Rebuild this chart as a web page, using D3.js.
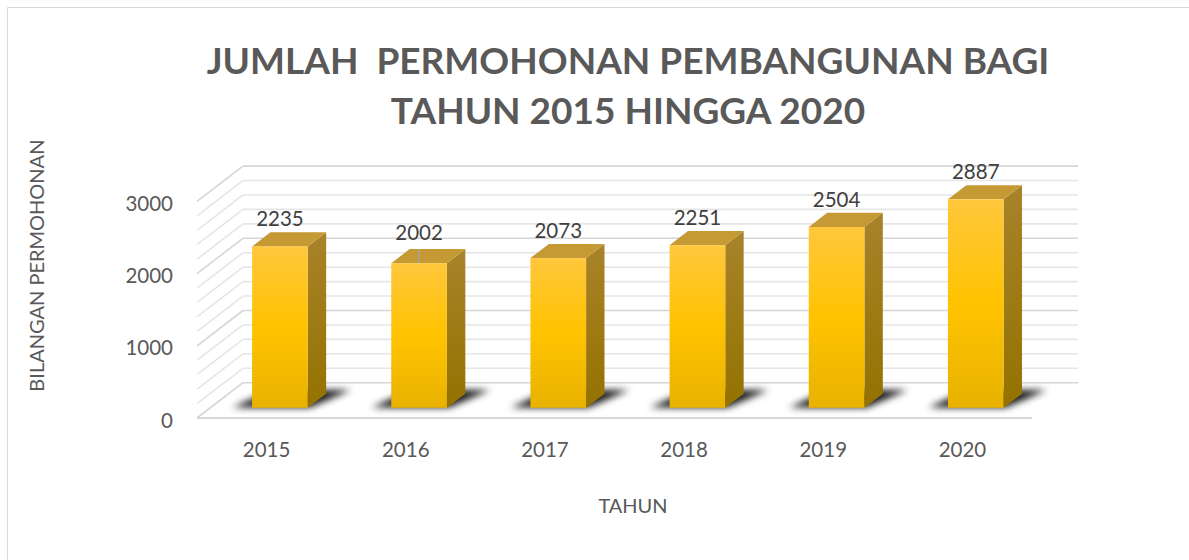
<!DOCTYPE html>
<html>
<head>
<meta charset="utf-8">
<script src="https://cdn.jsdelivr.net/npm/d3@7/dist/d3.min.js"></script>
<style>
  html, body { margin: 0; padding: 0; background: #fff; }
  svg { display: block; }
  text { font-family: Lato, "Open Sans", sans-serif; }
</style>
</head>
<body>
<svg id="chart" width="1189" height="560"></svg>
<script>
// ---- data ----
const categories = ["2015", "2016", "2017", "2018", "2019", "2020"];
const values = [2235, 2002, 2073, 2251, 2504, 2887];
const leaderLines = [false, true, false, false, false, false];
const yTicks = [0, 1000, 2000, 3000];
const minorStep = 200;
const titleLines = ["JUMLAH  PERMOHONAN PEMBANGUNAN BAGI", "TAHUN 2015 HINGGA 2020"];
const yTitle = "BILANGAN PERMOHONAN";
const xTitle = "TAHUN";

// ---- layout ----
const svg = d3.select("#chart");
const W = 1189, H = 560;
const front = { left: 197, right: 1032, bottom: 418, top: 201.4 };
const depth = { dx: 46, dy: -35.3 };
const t0 = 0.29, t1 = 0.69;  // bar front/back depth fractions
const barFrac = 0.4;

const x = d3.scaleBand().domain(categories).range([front.left, front.right]).padding(0);
const y = d3.scaleLinear().domain([0, 3000]).range([front.bottom, front.top]);
const P = (px, py, t) => [px + depth.dx * t, py + depth.dy * t];

const defs = svg.append("defs");
const gFront = defs.append("linearGradient").attr("id", "gFront").attr("x1", 0).attr("y1", 0).attr("x2", 0).attr("y2", 1);
gFront.append("stop").attr("offset", "0%").attr("stop-color", "#ffc73c");
gFront.append("stop").attr("offset", "50%").attr("stop-color", "#ffc300");
gFront.append("stop").attr("offset", "100%").attr("stop-color", "#e8b200");
const gSide = defs.append("linearGradient").attr("id", "gSide").attr("x1", 0).attr("y1", 0).attr("x2", 0).attr("y2", 1);
gSide.append("stop").attr("offset", "0%").attr("stop-color", "#a8832a");
gSide.append("stop").attr("offset", "100%").attr("stop-color", "#947200");
const blur = defs.append("filter").attr("id", "blur").attr("x", "-50%").attr("y", "-100%").attr("width", "200%").attr("height", "300%");
blur.append("feGaussianBlur").attr("stdDeviation", 3.5);

// border
svg.append("path").attr("d", `M7.5,${H} L7.5,7.5 L${W},7.5`).attr("fill", "none").attr("stroke", "#d9d9d9").attr("stroke-width", 1);

// title
const title = svg.append("g");
titleLines.forEach((t, i) => {
  title.append("text")
    .attr("x", 628).attr("y", 73.5 + i * 50)
    .attr("text-anchor", "middle")
    .style("white-space", "pre")
    .attr("font-size", 37).attr("font-weight", "bold").attr("fill", "#595959")
    .text(t);
});

// gridlines (back wall + left side wall)
const gridVals = d3.range(0, 3000 + 1, minorStep);
const grid = svg.append("g").attr("fill", "none");
gridVals.forEach(v => {
  const major = v % 1000 === 0;
  const col = major ? "#d6d6d6" : "#e6e6e6";
  const yf = y(v);
  const bl = P(front.left, yf, 1), br = P(front.right, yf, 1);
  grid.append("line").attr("x1", bl[0]).attr("y1", bl[1]).attr("x2", br[0]).attr("y2", br[1])
    .attr("stroke", col).attr("stroke-width", 1.6);
  grid.append("line").attr("x1", front.left).attr("y1", yf).attr("x2", bl[0]).attr("y2", bl[1])
    .attr("stroke", col).attr("stroke-width", 1.6);
});
// floor front edge
grid.append("line").attr("x1", front.left).attr("y1", y(0)).attr("x2", front.right).attr("y2", y(0))
  .attr("stroke", "#d6d6d6").attr("stroke-width", 2);

// bars
const bw = x.bandwidth() * barFrac;
const off = (x.bandwidth() - bw) / 2;
const ddx = depth.dx * (t1 - t0), ddy = depth.dy * (t1 - t0);

// shadows
const shadows = svg.append("g").attr("filter", "url(#blur)");
categories.forEach((c, i) => {
  const bx = x(c) + off;
  const a = P(bx - 20, y(0), t0 + 0.01);
  const b = P(bx + bw + 2, y(0), t0 + 0.01);
  const cc = P(bx + bw + 20, y(0), t1 + 0.1);
  const d = P(bx - 4, y(0), t1 + 0.1);
  shadows.append("polygon").attr("points", [a, b, cc, d].map(p => p.join(",")).join(" "))
    .attr("fill", "#000").attr("opacity", 0.9);
});

const bars = svg.append("g");
categories.forEach((c, i) => {
  const v = values[i];
  const bx = x(c) + off;
  const [fx, ft] = P(bx, y(v), t0);
  const fb = P(bx, y(0), t0)[1];
  const g = bars.append("g");
  // side face
  g.append("polygon").attr("points", [[fx + bw, ft], [fx + bw + ddx, ft + ddy], [fx + bw + ddx, fb + ddy], [fx + bw, fb]].map(p => p.join(",")).join(" "))
    .attr("fill", "url(#gSide)");
  // top face
  g.append("polygon").attr("points", [[fx, ft], [fx + ddx, ft + ddy], [fx + bw + ddx, ft + ddy], [fx + bw, ft]].map(p => p.join(",")).join(" "))
    .attr("fill", "#c59934");
  // front face
  g.append("rect").attr("x", fx).attr("y", ft).attr("width", bw).attr("height", fb - ft)
    .attr("fill", "url(#gFront)");
  // label
  const backTop = ft + ddy;
  g.append("text").attr("x", fx + bw / 2).attr("y", backTop - (leaderLines[i] ? 9 : 6))
    .attr("text-anchor", "middle").attr("font-size", 20.5).attr("fill", "#404040").text(v);
  if (leaderLines[i]) {
    g.append("line").attr("x1", fx + bw / 2).attr("x2", fx + bw / 2)
      .attr("y1", backTop).attr("y2", ft)
      .attr("stroke", "#a6a6a6").attr("stroke-width", 1.5);
  }
});

// y tick labels
svg.append("g").selectAll("text").data(yTicks).join("text")
  .attr("x", 173).attr("y", d => y(d) + 9.5)
  .attr("text-anchor", "end").attr("font-size", 20.5).attr("fill", "#595959")
  .text(d => d);

// x category labels
svg.append("g").selectAll("text").data(categories).join("text")
  .attr("x", d => x(d) + x.bandwidth() / 2).attr("y", 456.7)
  .attr("text-anchor", "middle").attr("font-size", 20.5).attr("fill", "#595959")
  .text(d => d);

// axis titles
svg.append("text").attr("transform", "translate(44,265.6) rotate(-90)")
  .attr("text-anchor", "middle").attr("font-size", 20).attr("fill", "#595959").text(yTitle);
svg.append("text").attr("x", 633).attr("y", 513.3)
  .attr("text-anchor", "middle").attr("font-size", 20).attr("fill", "#595959").text(xTitle);
</script>
</body>
</html>
